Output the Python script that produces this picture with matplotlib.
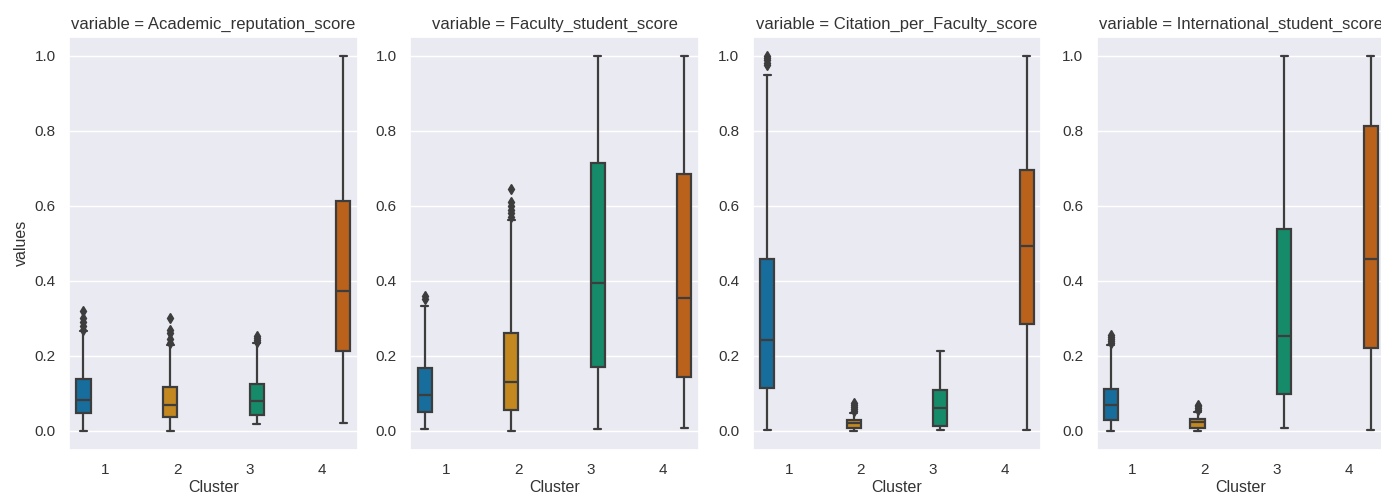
import numpy as np
import matplotlib
matplotlib.use("Agg")
import matplotlib.pyplot as plt
import seaborn as sns

sns.set_theme(style="darkgrid")
plt.rcParams['font.family'] = ['Liberation Sans', 'DejaVu Sans']

# Box statistics, one list per panel, one entry per cluster
clusters = [1, 2, 3, 4]
variables = ["Academic_reputation_score", "Faculty_student_score",
             "Citation_per_Faculty_score", "International_student_score"]

# each row: [whisker_low, q1, median, q3, whisker_high]
academic = [[0.0, 0.048, 0.083, 0.138, 0.265],
            [0.0, 0.037, 0.068, 0.116, 0.228],
            [0.017, 0.043, 0.079, 0.126, 0.233],
            [0.02, 0.213, 0.373, 0.612, 1.0]]
faculty = [[0.005, 0.05, 0.096, 0.167, 0.333],
           [0.0, 0.055, 0.129, 0.262, 0.563],
           [0.005, 0.17, 0.395, 0.714, 1.0],
           [0.008, 0.143, 0.353, 0.686, 1.0]]
citation = [[0.003, 0.114, 0.242, 0.459, 0.95],
            [0.0, 0.008, 0.021, 0.03, 0.048],
            [0.002, 0.014, 0.061, 0.108, 0.214],
            [0.003, 0.286, 0.492, 0.696, 1.0]]
international = [[0.0, 0.028, 0.068, 0.111, 0.229],
                 [0.0, 0.008, 0.024, 0.032, 0.05],
                 [0.008, 0.099, 0.254, 0.538, 1.0],
                 [0.003, 0.22, 0.459, 0.812, 1.0]]

academic_fliers = [[0.27, 0.28, 0.29, 0.30, 0.32],
                   [0.235, 0.245, 0.26, 0.27, 0.30],
                   [0.238, 0.243, 0.248, 0.253],
                   []]
faculty_fliers = [[0.352, 0.36],
                  [0.57, 0.58, 0.59, 0.60, 0.61, 0.645],
                  [],
                  []]
citation_fliers = [[0.975, 0.982, 0.988, 0.994, 1.0],
                   [0.052, 0.058, 0.064, 0.07, 0.075],
                   [],
                   []]
international_fliers = [[0.235, 0.24, 0.245, 0.25, 0.255],
                        [0.055, 0.06, 0.065, 0.07],
                        [],
                        []]

panel_stats = [academic, faculty, citation, international]
panel_fliers = [academic_fliers, faculty_fliers, citation_fliers, international_fliers]

palette = [sns.desaturate(c, 0.75) for c in sns.color_palette("colorblind", 4)]
line_gray = "#3d3d3d"
text_gray = "#333333"

fig = plt.figure(figsize=(13.81, 4.94), dpi=100)
lefts = [0.050, 0.297, 0.545, 0.794]
axes = [fig.add_axes([l, 0.09, 0.209, 0.835]) for l in lefts]

n_hue = len(clusters)
hue_w = 0.8 / n_hue
for ax, var, stats, fliers in zip(axes, variables, panel_stats, panel_fliers):
    for i, (row, fl) in enumerate(zip(stats, fliers)):
        pos = i - 0.4 + hue_w * (i + 0.5)
        d = dict(whislo=row[0], q1=row[1], med=row[2], q3=row[3],
                 whishi=row[4], fliers=fl)
        ax.bxp([d], positions=[pos], widths=hue_w * 0.98, patch_artist=True,
               boxprops=dict(facecolor=palette[i], edgecolor=line_gray, linewidth=1.6),
               medianprops=dict(color=line_gray, linewidth=1.6),
               whiskerprops=dict(color=line_gray, linewidth=1.6),
               capprops=dict(color=line_gray, linewidth=1.6),
               flierprops=dict(marker="d", markerfacecolor=line_gray,
                               markeredgecolor=line_gray, markersize=5))
    ax.set_xlim(-0.5, 3.5)
    ax.set_ylim(-0.05, 1.05)
    ax.set_xticks(range(n_hue))
    ax.set_xticklabels([str(c) for c in clusters])
    ax.set_yticks(np.arange(0, 1.01, 0.2))
    ax.set_yticklabels([f"{t:.1f}" for t in np.arange(0, 1.01, 0.2)])
    ax.grid(axis="x", visible=False)
    ax.tick_params(labelsize=11, colors=text_gray)
    ax.set_xlabel("Cluster", fontsize=11.5, color=text_gray, labelpad=2)
    ax.set_title(f"variable = {var}", fontsize=12, color=text_gray, pad=6)

axes[0].set_ylabel("values", fontsize=11.5, color=text_gray)

fig.savefig("out.png", dpi=100)
